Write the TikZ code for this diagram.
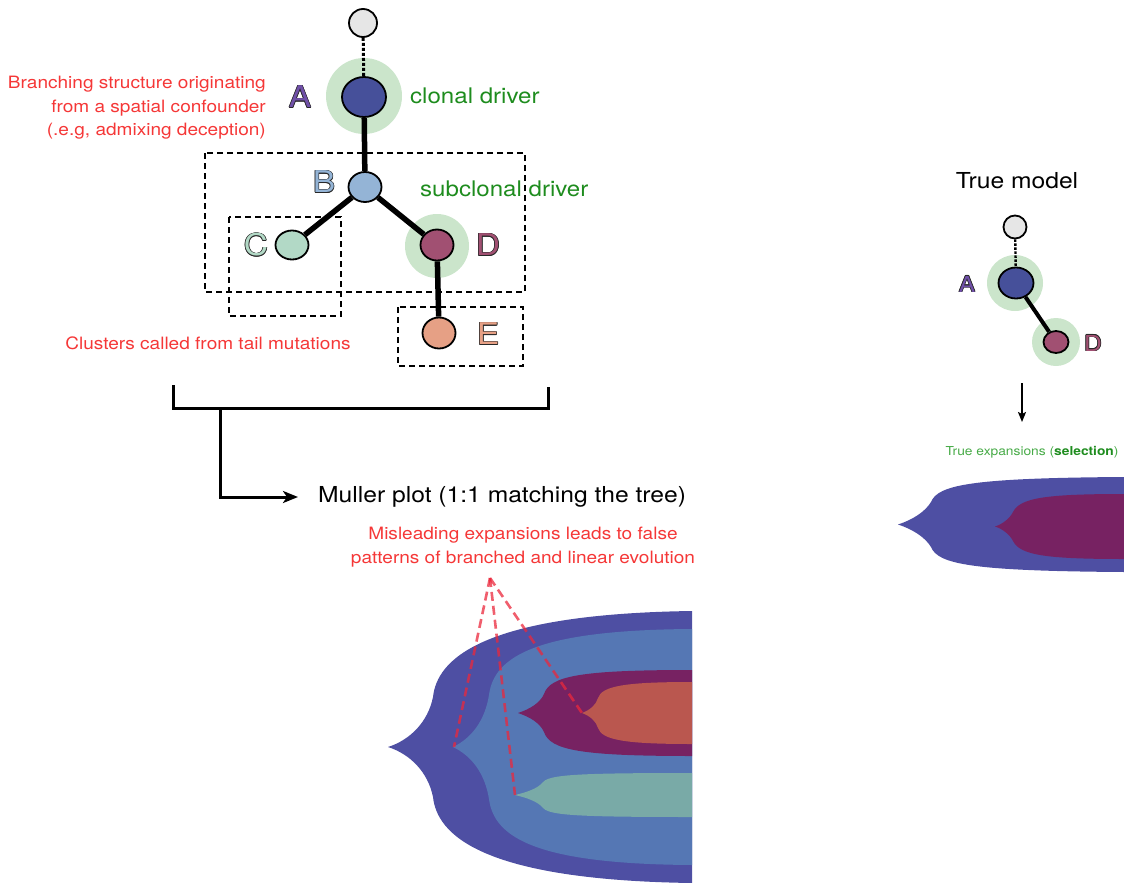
\documentclass[tikz,border=0pt]{standalone}
\usepackage{fontspec}
\setmainfont{TeX Gyre Heros}[FakeStretch=1.12]
\usetikzlibrary{shapes.geometric,arrows.meta}
\definecolor{olc}{RGB}{40,40,40}
\definecolor{halo}{RGB}{203,229,203}
\definecolor{nroot}{RGB}{230,230,230}
\definecolor{nA}{RGB}{70,80,154}
\definecolor{nB}{RGB}{148,180,214}
\definecolor{nC}{RGB}{178,217,198}
\definecolor{nD}{RGB}{161,80,114}
\definecolor{nE}{RGB}{230,160,133}
\definecolor{lA}{RGB}{112,80,168}
\definecolor{redt}{RGB}{245,55,55}
\definecolor{greent}{RGB}{30,140,30}
\definecolor{greenl}{RGB}{70,170,70}
\definecolor{mA}{RGB}{78,79,163}
\definecolor{mB}{RGB}{85,119,180}
\definecolor{mD}{RGB}{119,34,98}
\definecolor{mE}{RGB}{186,87,79}
\definecolor{mC}{RGB}{121,170,167}
\definecolor{dred}{RGB}{235,40,60}
\newcommand{\olet}[2]{{\setbox0\hbox{#2}%
\rlap{\color{olc}\kern.7pt\copy0}\rlap{\color{olc}\kern-.7pt\copy0}%
\rlap{\color{olc}\raise.7pt\copy0}\rlap{\color{olc}\lower.7pt\copy0}%
\rlap{\color{olc}\kern.5pt\raise.5pt\copy0}\rlap{\color{olc}\kern-.5pt\raise.5pt\copy0}%
\rlap{\color{olc}\kern.5pt\lower.5pt\copy0}\rlap{\color{olc}\kern-.5pt\lower.5pt\copy0}%
\textcolor{#1}{\copy0}}}
\tikzset{
  halonode/.style={circle,fill=halo,inner sep=0pt},
  treenode/.style={ellipse,draw=black,line width=1.8pt,inner sep=0pt},
  edge/.style={line width=5.5pt},
  dotedge/.style={line width=3pt,dash pattern=on 3pt off 2pt},
  dbox/.style={line width=1.4pt,dash pattern=on 6pt off 4pt},
  lbl/.style={inner sep=0pt,font=\fontsize{30}{30}\selectfont},
  lbls/.style={inner sep=0pt,font=\fontsize{22}{22}\selectfont},
  redtxt/.style={text=redt,inner sep=0pt,font=\fontsize{17}{23.5}\selectfont},
  greentxt/.style={text=greent,inner sep=0pt,font=\fontsize{21.5}{24}\selectfont},
  blacktxt/.style={text=black,inner sep=0pt,font=\fontsize{22}{26}\selectfont},
  dashred/.style={draw=dred,draw opacity=0.75,line width=2.6pt,dash pattern=on 9pt off 5pt},
}
\begin{document}
\begin{tikzpicture}[x=1pt,y=-1pt]
\useasboundingbox (0,0) rectangle (1124,883);
% ---------- main tree ----------
\node[halonode,minimum size=76pt] (hA) at (364,96) {};
\node[halonode,minimum size=64pt] (hD) at (437,246) {};
\node[treenode,fill=nroot,minimum width=28pt,minimum height=28pt] (root) at (363,23) {};
\node[treenode,fill=nA,minimum width=44pt,minimum height=40pt] (A) at (364,97) {};
\node[treenode,fill=nB,minimum width=33pt,minimum height=30pt] (B) at (365,187) {};
\node[treenode,fill=nC,minimum width=33pt,minimum height=29pt] (C) at (292,245) {};
\node[treenode,fill=nD,minimum width=33pt,minimum height=31pt] (D) at (437,245) {};
\node[treenode,fill=nE,minimum width=33pt,minimum height=31pt] (E) at (439,333) {};
\draw[dotedge] (root) -- (A);
\draw[edge] (A) -- (B);
\draw[edge] (B) -- (C);
\draw[edge] (B) -- (D);
\draw[edge] (D) -- (E);
\node[lbl] (lA) at (300,97) {\olet{lA}{A}};
\node[lbl] (lB) at (324,182) {\olet{nB}{B}};
\node[lbl] (lC) at (256,245) {\olet{nC}{C}};
\node[lbl] (lD) at (488,245) {\olet{nD}{D}};
\node[lbl] (lE) at (488,334) {\olet{nE}{E}};
\draw[dbox] (205,153) rectangle (525,292);
\draw[dbox] (229,217) rectangle (341,316);
\draw[dbox] (398,307) rectangle (523,366);
\node[redtxt,align=right,anchor=east] (conf) at (266,108) {Branching structure originating\\from a spatial confounder\\(.e.g, admixing deception)};
\node[greentxt,anchor=west] (clonal) at (410,96) {clonal driver};
\node[greentxt,anchor=west] (subclonal) at (420,189) {subclonal driver};
\node[redtxt] (tail) at (208,343) {Clusters called from tail mutations};
% ---------- bracket and arrow ----------
\coordinate (bl) at (173,385);
\coordinate (br) at (548,387);
\coordinate (bm) at (220,408);
\draw[line width=3pt] (bl) |- (br |- bm) -- (br);
\node[blacktxt,anchor=west] (muller) at (318,497) {Muller plot (1:1 matching the tree)};
\draw[line width=3pt,-{Stealth[length=15pt,width=12pt,inset=4pt]}] (bm) |- ([xshift=-20pt]muller.west);
\node[redtxt,align=center] (mislead) at (523,547) {Misleading expansions leads to false\\patterns of branched and linear evolution};
% ---------- Muller plot ----------
\fill[mA] (388,747) .. controls (410,740) and (428,722) .. (433,697) .. controls (437,660) and (480,614) .. (692,611) -- (692,883) .. controls (480,880) and (437,834) .. (433,797) .. controls (428,772) and (410,754) .. (388,747) -- cycle;
\fill[mB] (453,747) .. controls (472,738) and (485,720) .. (489,695) .. controls (494,655) and (540,630) .. (692,629) -- (692,865) .. controls (540,864) and (494,839) .. (489,799) .. controls (485,774) and (472,756) .. (453,747) -- cycle;
\fill[mD] (518,713) .. controls (530,709) and (540,703) .. (544,694) .. controls (550,676) and (580,670) .. (692,670) -- (692,756) .. controls (580,756) and (550,750) .. (544,732) .. controls (540,723) and (530,717) .. (518,713) -- cycle;
\fill[mE] (582,713) .. controls (590,710) and (596,705) .. (598,698) .. controls (602,686) and (625,682) .. (692,682) -- (692,744) .. controls (625,744) and (602,740) .. (598,728) .. controls (596,721) and (590,716) .. (582,713) -- cycle;
\fill[mC] (515,795) .. controls (528,792) and (538,788) .. (542,783) .. controls (548,775) and (570,773) .. (692,773) -- (692,817) .. controls (570,817) and (548,815) .. (542,807) .. controls (538,802) and (528,798) .. (515,795) -- cycle;
\coordinate (apex) at (490,578);
\coordinate (tipB) at (454,747);
\coordinate (tipC) at (515,795);
\coordinate (tipE) at (582,713);
\draw[dashred] (apex) -- (tipB);
\draw[dashred] (apex) -- (tipC);
\draw[dashred] (apex) -- (tipE);
% ---------- true model ----------
\node[blacktxt] (truemodel) at (1017,181) {True model};
\node[halonode,minimum size=56pt] (thA) at (1015,283) {};
\node[halonode,minimum size=48pt] (thD) at (1056,342) {};
\node[treenode,fill=nroot,minimum width=23pt,minimum height=23pt] (troot) at (1015,227) {};
\node[treenode,fill=nA,minimum width=35pt,minimum height=31pt] (tA) at (1016,283) {};
\node[treenode,fill=nD,minimum width=25pt,minimum height=22pt] (tD) at (1056,342) {};
\draw[line width=2.4pt,dash pattern=on 2.4pt off 1.6pt] (troot) -- (tA);
\draw[line width=4pt] (tA) -- (tD);
\node[lbls] (tlA) at (967,284) {\olet{lA}{A}};
\node[lbls] (tlD) at (1093,343) {\olet{nD}{D}};
\coordinate (ta1) at (1022,383);
\coordinate (ta2) at (1022,422);
\draw[line width=1.8pt,-{Stealth[length=10pt,width=8pt,inset=2pt]}] (ta1) -- (ta2);
\node[inner sep=0pt,text=greenl,font=\fontsize{12.3}{14}\selectfont] (trueexp) at (1032,452) {True expansions (\textcolor{greent}{\bfseries selection})};
\fill[mA] (898,524.5) .. controls (912,520) and (925,512) .. (931,502) .. controls (938,485) and (970,478) .. (1124,477) -- (1124,572) .. controls (970,571) and (938,564) .. (931,547) .. controls (925,537) and (912,529) .. (898,524.5) -- cycle;
\fill[mD] (995,526.5) .. controls (1003,524) and (1010,518) .. (1013,512) .. controls (1020,498) and (1045,494) .. (1124,494) -- (1124,559) .. controls (1045,559) and (1020,555) .. (1013,541) .. controls (1010,535) and (1003,529) .. (995,526.5) -- cycle;
\end{tikzpicture}
\end{document}
